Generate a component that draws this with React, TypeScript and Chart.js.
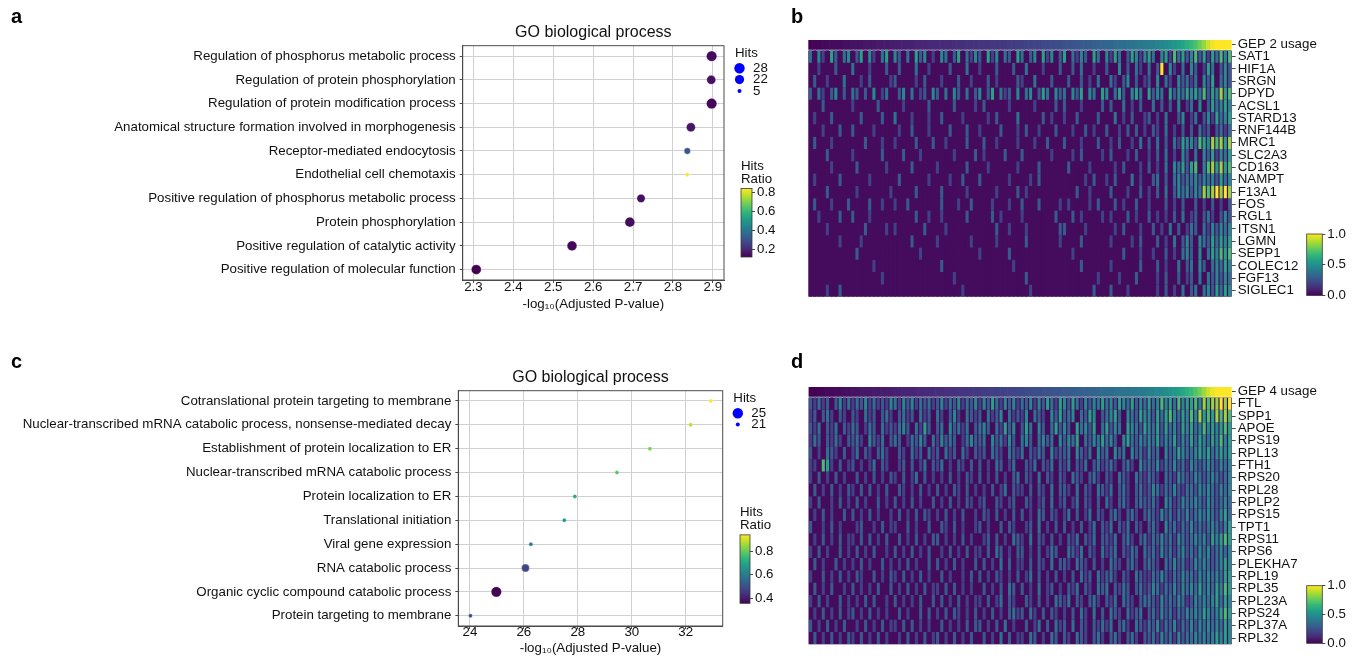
import React, { useEffect, useRef } from "react";
import { Chart, registerables } from "chart.js";

Chart.register(...registerables);

const FONT = "'Liberation Sans', Arial, Helvetica, sans-serif";
const TEXT = "#111111";
const GRID = "#d0d0d0";
const AXIS = "#4a4a4a";
const FS = 13.3;

// ---------------- Panel a (GO biological process, GEP 2) ----------------
const termsA = [
  "Regulation of phosphorus metabolic process",
  "Regulation of protein phosphorylation",
  "Regulation of protein modification process",
  "Anatomical structure formation involved in morphogenesis",
  "Receptor-mediated endocytosis",
  "Endothelial cell chemotaxis",
  "Positive regulation of phosphorus metabolic process",
  "Protein phosphorylation",
  "Positive regulation of catalytic activity",
  "Positive regulation of molecular function",
];
const pvalA = [2.897, 2.896, 2.897, 2.845, 2.836, 2.836, 2.72, 2.692, 2.547, 2.307];
const hitsA = [28, 21, 28, 21, 11, 5, 18, 25, 25, 25];
const ratioA = [0.14, 0.15, 0.13, 0.16, 0.31, 0.84, 0.15, 0.14, 0.13, 0.12];
const xTicksA = [2.3, 2.4, 2.5, 2.6, 2.7, 2.8, 2.9];
const hitsLegendA = [28, 22, 5];
const ratioTicksA = [0.2, 0.4, 0.6, 0.8];

// ---------------- Panel c (GO biological process, GEP 4) ----------------
const termsC = [
  "Cotranslational protein targeting to membrane",
  "Nuclear-transcribed mRNA catabolic process, nonsense-mediated decay",
  "Establishment of protein localization to ER",
  "Nuclear-transcribed mRNA catabolic process",
  "Protein localization to ER",
  "Translational initiation",
  "Viral gene expression",
  "RNA catabolic process",
  "Organic cyclic compound catabolic process",
  "Protein targeting to membrane",
];
const pvalC = [32.93, 32.18, 30.67, 29.45, 27.89, 27.5, 26.26, 26.06, 24.98, 24.02];
const hitsC = [21, 21, 21, 21, 21, 21, 21, 23, 25, 21];
const ratioC = [0.94, 0.88, 0.82, 0.78, 0.71, 0.66, 0.59, 0.48, 0.36, 0.49];
const xTicksC = [24, 26, 28, 30, 32];
const hitsLegendC = [25, 21];
const ratioTicksC = [0.4, 0.6, 0.8];

// ---------------- Panel b heatmap (GEP 2 usage) ----------------
const usageB = [
  0.0, 0.01, 0.01, 0.02, 0.02, 0.03, 0.03, 0.03, 0.04, 0.04,
  0.05, 0.05, 0.05, 0.06, 0.06, 0.06, 0.07, 0.07, 0.07, 0.08,
  0.08, 0.08, 0.09, 0.09, 0.09, 0.1, 0.1, 0.1, 0.11, 0.11,
  0.11, 0.12, 0.12, 0.12, 0.13, 0.13, 0.13, 0.14, 0.14, 0.14,
  0.15, 0.15, 0.15, 0.16, 0.16, 0.17, 0.17, 0.18, 0.18, 0.19,
  0.19, 0.2, 0.2, 0.21, 0.21, 0.22, 0.22, 0.23, 0.24, 0.24,
  0.25, 0.26, 0.26, 0.27, 0.28, 0.29, 0.29, 0.3, 0.31, 0.32,
  0.33, 0.33, 0.34, 0.35, 0.36, 0.37, 0.38, 0.39, 0.4, 0.41,
  0.42, 0.43, 0.45, 0.46, 0.48, 0.5, 0.52, 0.55, 0.58, 0.62,
  0.66, 0.71, 0.77, 0.84, 0.92, 0.98, 1.0, 1.0, 1.0, 1.0,
];
const genesB = [
  "SAT1", "HIF1A", "SRGN", "DPYD", "ACSL1", "STARD13", "RNF144B", "MRC1", "SLC2A3", "CD163",
  "NAMPT", "F13A1", "FOS", "RGL1", "ITSN1", "LGMN", "SEPP1", "COLEC12", "FGF13", "SIGLEC1",
];
// expression level codes 0-9 per cell (cells ordered by usage)
const rowsB = [
  "4052063045 0360520460 5304063502 0540360425 3062504306 4035062503 6042530640 5264036525 6405627463 5736264757",
  "0020003000 4000200030 0300040020 0003000400 2000300030 0400020003 0030400200 3005030420 4039052040 5302640353",
  "0300200040 0020300002 3000020300 0200030020 0030200003 2004000300 0300302040 0420350302 3050420534 2405360453",
  "3042035030 4303050240 0350402305 3040530403 5036042305 0450364053 4053605406 5046305640 6354063546 5647365867",
  "0003000000 2000003000 0020000030 0000300002 0300000200 0002000030 3000200003 0300402030 0403030502 4050364565",
  "0200030000 0030000300 4000200020 0300002000 0020300004 0000030200 2003000030 0040203002 3020400350 2403526456",
  "0002000300 3000020000 0200300020 0003000300 2000030002 0300200030 0020030200 3002030302 0320402030 3042303424",
  "0300020000 0003000200 2000030003 0020000300 0300200002 0002003000 3000200030 0203002040 3040304265 5376587868",
  "0000300000 2000000300 0030002000 0000200003 0200003000 3000000200 0020300002 0300020300 2030402053 0405362546",
  "0000020000 0300000020 0000300000 2000000300 0020000002 0000300000 0300002000 0020300020 3020405463 6705786867",
  "0200000300 0000200000 0300000020 0002003000 3000000200 0020300000 0000020300 2030004020 0340304534 4535453645",
  "0000300000 0200000002 0000030000 0300000200 0000200003 0200000000 0003002000 0300020030 2030403545 3548789898",
  "0300020003 0000300200 2003000000 0300020030 0002000200 3000300002 0200002030 0030200300 2000302030 0302030203",
  "0020000300 3000200000 0000030020 0200000300 0003020000 2000000030 0030200002 0200030200 3020203040 2303420353",
  "0000200000 0003000020 2000000300 0020000000 0000300200 0200000003 3000020000 0020300020 0302040302 4304253545",
  "0000000200 0020000000 0000300000 2000000020 0000200000 0300000002 0000300000 0200002030 0030204035 3054364656",
  "0000000000 0300000000 0000002000 0000000000 2000000300 0000000000 0020000000 0000300020 0200302045 3050465767",
  "0000000000 0000020000 0000000000 0300000000 0000000020 0000000000 0000300000 0200000030 0030200403 4053045465",
  "0000000000 0000000200 0000000000 0000200000 0000000000 0300000000 0000000020 0002000300 0020300302 3040435354",
  "0000200300 0000000000 0000000000 0000002000 0000000000 0020000000 0000000300 0300020000 0020302040 3404536465",
];

// ---------------- Panel d heatmap (GEP 4 usage) ----------------
const usageD = [
  0.0, 0.0, 0.01, 0.01, 0.02, 0.02, 0.03, 0.03, 0.04, 0.04,
  0.05, 0.05, 0.06, 0.06, 0.06, 0.07, 0.07, 0.08, 0.08, 0.08,
  0.09, 0.09, 0.1, 0.1, 0.1, 0.11, 0.11, 0.12, 0.12, 0.12,
  0.13, 0.13, 0.14, 0.14, 0.14, 0.15, 0.15, 0.16, 0.16, 0.17,
  0.17, 0.18, 0.18, 0.19, 0.19, 0.2, 0.2, 0.21, 0.21, 0.22,
  0.22, 0.23, 0.23, 0.24, 0.24, 0.25, 0.25, 0.26, 0.27, 0.27,
  0.28, 0.28, 0.29, 0.3, 0.3, 0.31, 0.32, 0.32, 0.33, 0.34,
  0.34, 0.35, 0.36, 0.37, 0.38, 0.38, 0.39, 0.4, 0.41, 0.42,
  0.43, 0.44, 0.46, 0.47, 0.49, 0.51, 0.53, 0.56, 0.59, 0.63,
  0.67, 0.72, 0.78, 0.85, 0.92, 0.97, 1.0, 1.0, 1.0, 1.0,
];
const genesD = [
  "FTL", "SPP1", "APOE", "RPS19", "RPL13", "FTH1", "RPS20", "RPL28", "RPLP2", "RPS15",
  "TPT1", "RPS11", "RPS6", "PLEKHA7", "RPL19", "RPL35", "RPL23A", "RPS24", "RPL37A", "RPL32",
];
const rowsD = [
  "3242303524 2435242325 4253524342 3524352435 2536425352 4352536426 5364253546 4536546354 6457564756 6758788989",
  "2303420320 3204230342 0342304230 4203520432 3042350423 2504320536 3450436503 4563054365 5364675465 7586768787",
  "3240324032 4302430423 2453042630 3405342403 4530426350 3640530463 5306453604 6354065436 5463645365 6457565676",
  "2430324203 3420532403 4302435304 2534302453 3405342530 4530453405 3546043546 4530564354 5463546354 6465465756",
  "3020432030 2403203420 0320423042 3042304203 2304320432 4032430523 3405324053 4053405342 5340534654 4565645656",
  "2207620302 3020240320 0230302403 2402032030 3020430240 0324032403 2403240342 3420342053 4352435342 5434543545",
  "2030203020 0302030203 2030240302 0203020320 3020302034 0320403203 2043203420 3204320432 4320432543 3543454345",
  "0302030203 2030302030 0320203020 3020320302 0203024032 2030320403 3204032043 2403420342 3542435324 4354543545",
  "2030020302 0302003020 3020302003 0203020320 2300320230 0320230402 3024032030 4203420343 3420542354 4543543454",
  "0203020030 3020302002 0302030320 2030203002 0320302030 3020430320 2403024032 0342034203 4325342435 3454543564",
  "3002030200 0230020302 2003020030 0320302002 3020030320 0230402030 3020302403 2403240320 3420534243 5343454356",
  "0203020302 2030302030 0302030203 3020203020 0230302043 2040320302 0324032403 3240342034 2435342543 4545365676",
  "2030200302 0302030020 3020302030 0203020302 2030430203 3020302430 0432403204 2340324304 3425342453 4354534545",
  "0302003020 2030200302 0203020030 3020302003 0302040302 2030320403 3204320302 0432034203 4320435342 3545434565",
  "2003020302 0320030203 2030203020 0302002030 3020320203 0240302030 2030423042 3420320432 2435324354 4354545466",
  "0302030020 3020203003 0203020302 2030302020 0302030430 3020402302 0324032043 4032430342 3542435354 5464546576",
  "2030200302 0203030020 3020203003 0302030202 2030240320 0320302043 2403203420 3240432034 4325343542 3545456465",
  "0203020302 3020302020 0302003030 2030320203 0203020342 3042030320 2030420403 0432042340 3425342435 4546545676",
  "3020302030 0203020302 2030302020 0302020303 3020304020 0302403042 3040320324 2403420432 4352435243 5354545465",
  "0302030203 2030203020 0203020302 3020302030 0302040302 2043020430 3204320342 0342034203 3425342534 4545456565",
];

// value of each level code 0..9
const LEVELS = [0.03, 0.12, 0.2, 0.29, 0.38, 0.48, 0.58, 0.7, 0.84, 1.0];

// ---------------- helpers ----------------
const VIR = [
  [68, 1, 84], [72, 40, 120], [62, 73, 137], [49, 104, 142], [38, 130, 142],
  [31, 158, 137], [53, 183, 121], [110, 206, 88], [181, 222, 43], [253, 231, 37],
];
function viridis(t: number): string {
  const c = Math.max(0, Math.min(1, t)) * 9;
  const i = Math.min(8, Math.floor(c));
  const f = c - i;
  const a = VIR[i], b = VIR[i + 1];
  const m = (k: number) => Math.round(a[k] + (b[k] - a[k]) * f);
  return `rgb(${m(0)},${m(1)},${m(2)})`;
}
function parseRow(s: string): number[] {
  return s.replace(/\s+/g, "").split("").map((ch) => LEVELS[Number(ch)]);
}
function radiusScale(hits: number[], rMin = 2, rMax = 5.2) {
  const lo = Math.min(...hits), hi = Math.max(...hits);
  return (h: number) => Math.sqrt(rMin * rMin + ((h - lo) / (hi - lo)) * (rMax * rMax - rMin * rMin));
}

function framePlugin() {
  return {
    id: "frame",
    afterDraw(chart: any) {
      const { ctx, chartArea: a } = chart;
      ctx.save();
      ctx.strokeStyle = AXIS;
      ctx.lineWidth = 1;
      ctx.strokeRect(a.left, a.top, a.right - a.left, a.bottom - a.top);
      ctx.restore();
    },
  };
}

function hitsLegendPlugin(values: number[], rOf: (h: number) => number, dx: number) {
  return {
    id: "hitsLegend",
    afterDraw(chart: any) {
      const { ctx, chartArea: a } = chart;
      ctx.save();
      ctx.font = `${FS}px ${FONT}`;
      ctx.textBaseline = "middle";
      ctx.textAlign = "left";
      ctx.fillStyle = TEXT;
      ctx.fillText("Hits", a.right + dx, a.top + 7.6);
      values.forEach((v, k) => {
        const cy = a.top + 22.6 + k * 11.3;
        ctx.beginPath();
        ctx.arc(a.right + dx + 4.5, cy, rOf(v), 0, Math.PI * 2);
        ctx.fillStyle = "#0000ff";
        ctx.fill();
        ctx.fillStyle = TEXT;
        ctx.fillText(String(v), a.right + dx + 18, cy);
      });
      ctx.restore();
    },
  };
}

function bubbleConfig(o: any) {
  const rOf = radiusScale(o.hits);
  const [lo, hi] = o.ratioRange;
  const tickFont = { family: FONT, size: FS, lineHeight: 1 };
  return {
    type: "scatter",
    data: {
      datasets: [
        {
          data: o.pval.map((x: number, i: number) => ({ x, y: i })),
          pointRadius: o.hits.map(rOf),
          pointBackgroundColor: o.ratio.map((v: number) => viridis((v - lo) / (hi - lo))),
          pointBorderColor: "rgba(255,255,255,0.6)",
          pointBorderWidth: 0.5,
        },
      ],
    },
    options: {
      responsive: false,
      animation: false,
      devicePixelRatio: 1,
      events: [],
      layout: { padding: { left: 0, top: 0, right: o.padRight, bottom: 0 } },
      plugins: {
        legend: { display: false },
        tooltip: { enabled: false },
        title: {
          display: true,
          text: "GO biological process",
          fullSize: false,
          color: TEXT,
          font: { family: FONT, size: 16, weight: "normal", lineHeight: 1.2 },
          padding: { top: 22.7, bottom: 3.8 },
        },
      },
      scales: {
        x: {
          type: "linear",
          min: o.xMin,
          max: o.xMax,
          afterBuildTicks: (ax: any) => {
            ax.ticks = o.xTicks.map((v: number) => ({ value: v }));
          },
          afterFit: (ax: any) => {
            ax.height = o.xAxisHeight;
          },
          ticks: {
            color: TEXT,
            font: tickFont,
            padding: o.tickPad,
            maxRotation: 0,
            autoSkip: false,
            callback: (v: any) => Number(v).toFixed(o.decimals),
          },
          grid: { color: GRID, lineWidth: 1, tickColor: AXIS, tickLength: 3 },
          border: { color: AXIS, width: 1 },
          title: {
            display: true,
            text: "-log\u2081\u2080(Adjusted P-value)",
            color: TEXT,
            font: { family: FONT, size: FS, lineHeight: 1.2 },
            padding: { top: 0, bottom: o.titlePadBottom },
          },
        },
        y: {
          type: "linear",
          reverse: true,
          min: o.yMin,
          max: o.yMax,
          afterBuildTicks: (ax: any) => {
            ax.ticks = o.terms.map((_: string, i: number) => ({ value: i }));
          },
          afterFit: (ax: any) => {
            ax.width = o.axisWidth;
          },
          ticks: {
            color: TEXT,
            font: { family: FONT, size: FS },
            padding: 4,
            autoSkip: false,
            callback: (v: any) => o.terms[Math.round(Number(v))],
          },
          grid: { color: GRID, lineWidth: 1, tickColor: AXIS, tickLength: 3 },
          border: { color: AXIS, width: 1 },
        },
      },
    },
    plugins: [framePlugin(), hitsLegendPlugin(o.legend, rOf, o.legendDx)],
  };
}

function colorbarConfig(o: any) {
  const fill = {
    id: "cbarFill",
    afterDraw(chart: any) {
      const { ctx, chartArea: a } = chart;
      const g = ctx.createLinearGradient(0, a.bottom, 0, a.top);
      for (let k = 0; k <= 40; k++) g.addColorStop(k / 40, viridis(k / 40));
      ctx.save();
      ctx.fillStyle = g;
      ctx.fillRect(a.left, a.top, a.right - a.left, a.bottom - a.top);
      ctx.strokeStyle = "#3a3a3a";
      ctx.lineWidth = 0.8;
      ctx.strokeRect(a.left, a.top, a.right - a.left, a.bottom - a.top);
      ctx.restore();
    },
  };
  return {
    type: "scatter",
    data: { datasets: [] },
    options: {
      responsive: false,
      animation: false,
      devicePixelRatio: 1,
      events: [],
      layout: { padding: o.pad },
      plugins: {
        legend: { display: false },
        tooltip: { enabled: false },
        title: o.title
          ? {
              display: true,
              text: o.title,
              align: "start",
              color: TEXT,
              font: { family: FONT, size: FS, weight: "normal", lineHeight: 0.95 },
              padding: o.titlePad,
            }
          : { display: false },
      },
      scales: {
        x: { display: false, min: 0, max: 1 },
        y: {
          position: "right",
          min: o.min,
          max: o.max,
          afterBuildTicks: (ax: any) => {
            ax.ticks = o.ticks.map((v: number) => ({ value: v }));
          },
          afterFit: (ax: any) => {
            ax.width = o.axisWidth;
          },
          ticks: {
            color: TEXT,
            font: { family: FONT, size: FS },
            padding: 2,
            callback: (v: any) => Number(v).toFixed(1),
          },
          grid: { drawOnChartArea: false, tickLength: 3, tickColor: AXIS },
          border: { display: false },
        },
      },
    },
    plugins: [fill],
  };
}

const GEP_END = 0.76;
const ROW0 = 0.85;

function heatmapConfig(o: any) {
  const cols = o.usage.map((_: number, i: number) => String(i));
  const datasets: any[] = [
    {
      data: o.usage.map(() => [0, GEP_END]),
      backgroundColor: o.usage.map((v: number) => viridis(v)),
      barPercentage: 1,
    },
  ];
  o.rows.forEach((r: string, g: number) => {
    const vals = parseRow(r);
    datasets.push({
      data: vals.map(() => [ROW0 + g, ROW0 + g + 1]),
      backgroundColor: vals.map((v) => viridis(v)),
      barPercentage: 0.72,
    });
  });
  const nRows = o.genes.length;
  const bg = {
    id: "heatBg",
    beforeDatasetsDraw(chart: any) {
      const { ctx, chartArea: a, scales } = chart;
      const y0 = scales.y.getPixelForValue(ROW0);
      const y1 = scales.y.getPixelForValue(ROW0 + nRows);
      ctx.save();
      ctx.fillStyle = viridis(LEVELS[0]);
      ctx.fillRect(a.left, y0, a.right - a.left, y1 - y0);
      ctx.restore();
    },
  };
  const tickVals = [GEP_END / 2, ...o.genes.map((_: string, g: number) => ROW0 + g + 0.5)];
  const tickLabels = [o.usageLabel, ...o.genes];
  return {
    type: "bar",
    data: { labels: cols, datasets },
    options: {
      responsive: false,
      animation: false,
      devicePixelRatio: 1,
      events: [],
      layout: { padding: o.pad },
      datasets: {
        bar: { grouped: false, categoryPercentage: 1, borderWidth: 0 },
      },
      plugins: { legend: { display: false }, tooltip: { enabled: false } },
      scales: {
        x: { type: "category", display: false },
        y: {
          type: "linear",
          position: "right",
          reverse: true,
          min: 0,
          max: ROW0 + nRows,
          afterBuildTicks: (ax: any) => {
            ax.ticks = tickVals.map((v) => ({ value: v }));
          },
          afterFit: (ax: any) => {
            ax.width = o.axisWidth;
          },
          ticks: {
            color: TEXT,
            font: { family: FONT, size: FS },
            padding: 2,
            autoSkip: false,
            callback: (_v: any, i: number) => tickLabels[i],
          },
          grid: { drawOnChartArea: false, tickLength: 4, tickColor: AXIS },
          border: { display: false },
        },
      },
    },
    plugins: [bg],
  };
}

function ChartBox(props: { make: () => any; left: number; top: number; width: number; height: number }) {
  const ref = useRef<HTMLCanvasElement | null>(null);
  useEffect(() => {
    if (!ref.current) return;
    const chart = new Chart(ref.current, props.make());
    return () => chart.destroy();
  }, []);
  return (
    <canvas
      ref={ref}
      width={props.width}
      height={props.height}
      style={{ position: "absolute", left: props.left, top: props.top, width: props.width, height: props.height }}
    />
  );
}

function Letter(props: { ch: string; left: number; top: number }) {
  return (
    <div
      style={{
        position: "absolute",
        left: props.left,
        top: props.top,
        fontFamily: FONT,
        fontWeight: "bold",
        fontSize: 20,
        lineHeight: "20px",
        color: "#000",
      }}
    >
      {props.ch}
    </div>
  );
}

export default function App() {
  return (
    <div
      style={{
        position: "absolute",
        left: 0,
        top: 0,
        width: 1364,
        height: 661,
        overflow: "hidden",
        background: "#fff",
      }}
    >
      <ChartBox
        left={0}
        top={0}
        width={800}
        height={330}
        make={() =>
          bubbleConfig({
            terms: termsA,
            pval: pvalA,
            hits: hitsA,
            ratio: ratioA,
            ratioRange: [0.12, 0.84],
            xMin: 2.273,
            xMax: 2.928,
            xTicks: xTicksA,
            decimals: 1,
            yMin: -0.44,
            yMax: 9.44,
            axisWidth: 462.7,
            padRight: 76,
            xAxisHeight: 50,
            tickPad: -2,
            titlePadBottom: 17.2,
            legend: hitsLegendA,
            legendDx: 11,
          })
        }
      />
      <ChartBox
        left={0}
        top={345}
        width={800}
        height={316}
        make={() =>
          bubbleConfig({
            terms: termsC,
            pval: pvalC,
            hits: hitsC,
            ratio: ratioC,
            ratioRange: [0.358, 0.937],
            xMin: 23.57,
            xMax: 33.37,
            xTicks: xTicksC,
            decimals: 0,
            yMin: -0.43,
            yMax: 9.43,
            axisWidth: 458.3,
            padRight: 77.3,
            xAxisHeight: 35,
            tickPad: -3,
            titlePadBottom: 4.2,
            legend: hitsLegendC,
            legendDx: 10.6,
          })
        }
      />
      <ChartBox
        left={725}
        top={150}
        width={75}
        height={120}
        make={() =>
          colorbarConfig({
            min: 0.12,
            max: 0.84,
            ticks: ratioTicksA,
            title: ["Hits", "Ratio"],
            titlePad: { top: 10.5, bottom: 2.8 },
            pad: { left: 16, top: 0, right: 8, bottom: 13 },
            axisWidth: 40,
          })
        }
      />
      <ChartBox
        left={725}
        top={496}
        width={75}
        height={120}
        make={() =>
          colorbarConfig({
            min: 0.358,
            max: 0.937,
            ticks: ratioTicksC,
            title: ["Hits", "Ratio"],
            titlePad: { top: 10.5, bottom: 3.1 },
            pad: { left: 15, top: 0, right: 10, bottom: 12.7 },
            axisWidth: 40,
          })
        }
      />
      <ChartBox
        left={800}
        top={30}
        width={564}
        height={280}
        make={() =>
          heatmapConfig({
            usage: usageB,
            usageLabel: "GEP 2 usage",
            genes: genesB,
            rows: rowsB,
            pad: { left: 8.3, top: 10, right: 32.3, bottom: 13.3 },
            axisWidth: 100,
          })
        }
      />
      <ChartBox
        left={800}
        top={377}
        width={564}
        height={280}
        make={() =>
          heatmapConfig({
            usage: usageD,
            usageLabel: "GEP 4 usage",
            genes: genesD,
            rows: rowsD,
            pad: { left: 8.5, top: 10, right: 32.3, bottom: 12.7 },
            axisWidth: 100,
          })
        }
      />
      <ChartBox
        left={1290}
        top={222}
        width={74}
        height={86}
        make={() =>
          colorbarConfig({
            min: 0,
            max: 1,
            ticks: [0, 0.5, 1],
            pad: { left: 16.7, top: 12, right: 7.7, bottom: 12.5 },
            axisWidth: 34,
          })
        }
      />
      <ChartBox
        left={1290}
        top={574}
        width={74}
        height={82}
        make={() =>
          colorbarConfig({
            min: 0,
            max: 1,
            ticks: [0, 0.5, 1],
            pad: { left: 16.7, top: 11.7, right: 7.7, bottom: 12.7 },
            axisWidth: 34,
          })
        }
      />
      <Letter ch="a" left={11} top={6} />
      <Letter ch="b" left={791} top={6} />
      <Letter ch="c" left={11} top={351} />
      <Letter ch="d" left={791} top={351} />
    </div>
  );
}
